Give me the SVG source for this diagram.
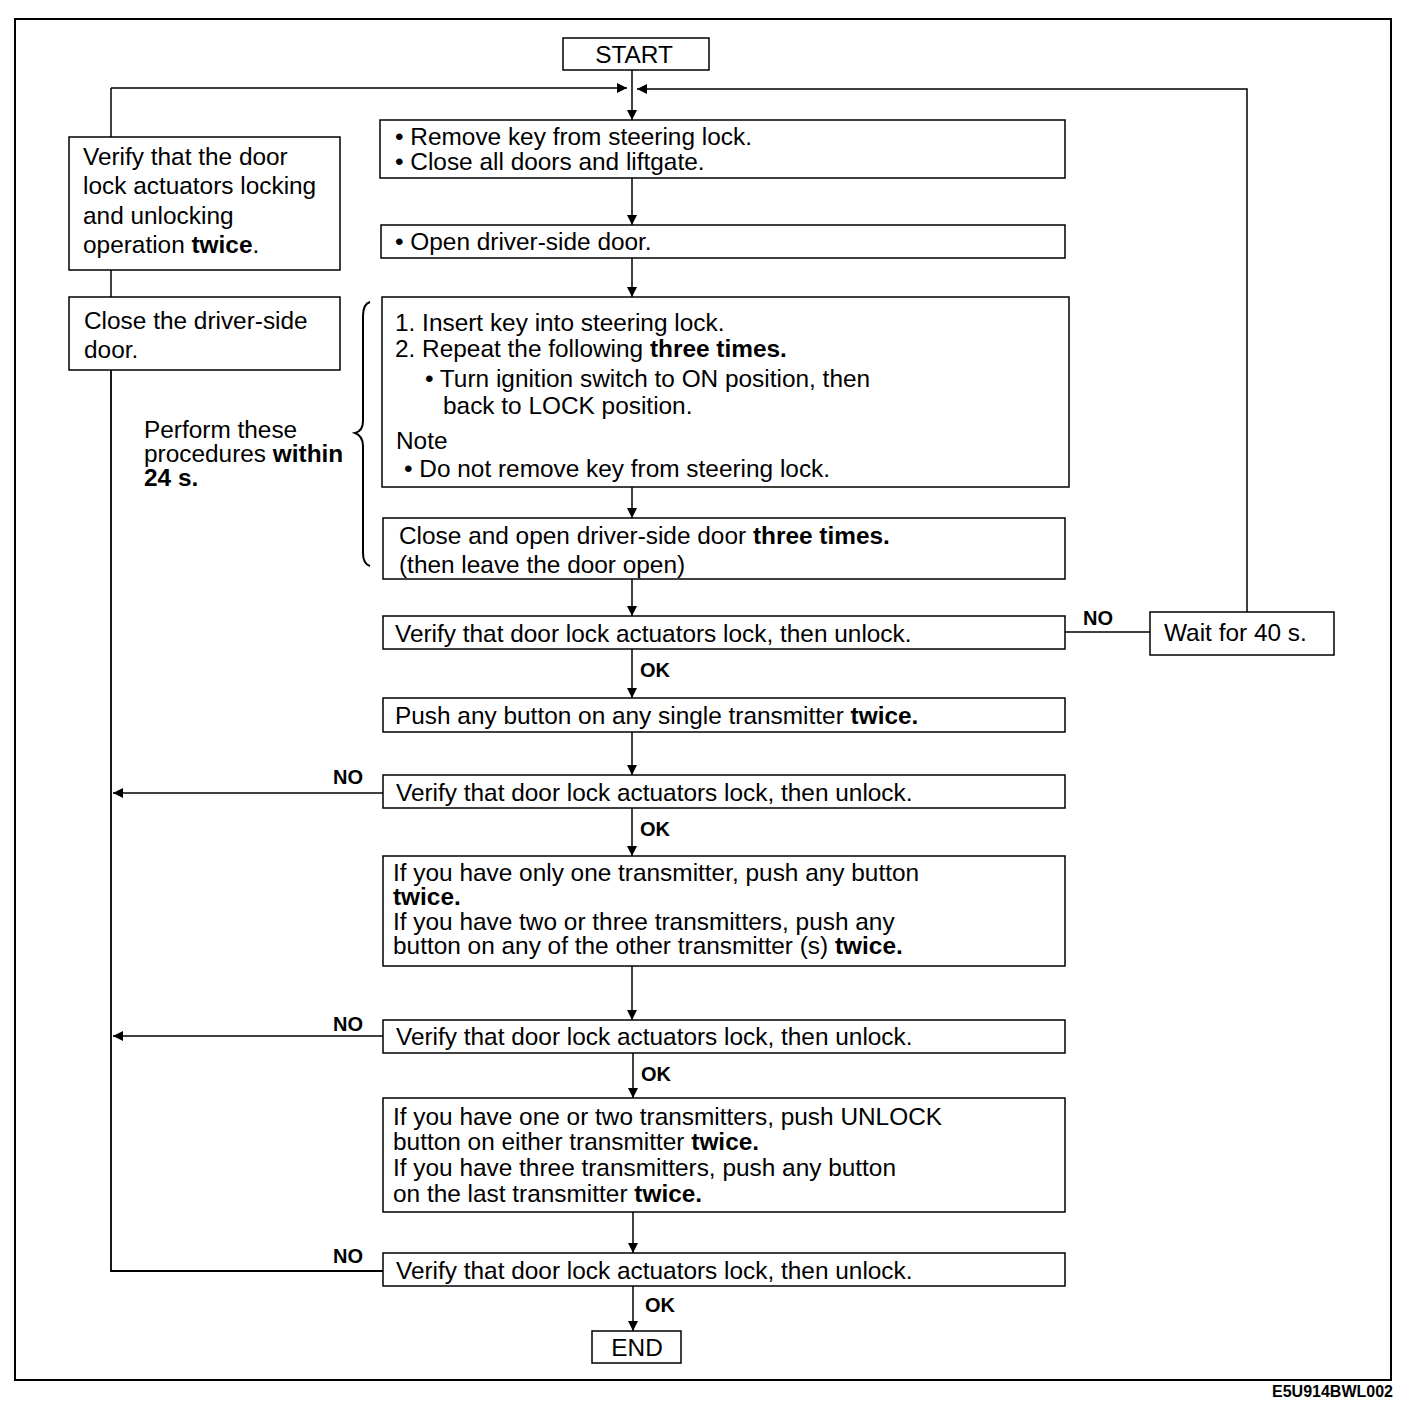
<svg xmlns="http://www.w3.org/2000/svg" width="1408" height="1408" viewBox="0 0 1408 1408">
<style>
  .box { fill: #fff; stroke: #000; stroke-width: 1.5; }
  .t { font-family: "Liberation Sans", Arial, sans-serif; font-size: 24.4px; fill: #000; }
  .lbl { font-family: "Liberation Sans", Arial, sans-serif; font-size: 20px; font-weight: bold; fill: #000; }
  .b { font-weight: bold; }
  .ln { fill: none; stroke: #000; stroke-width: 1.5; }
</style>
<defs>
  <marker id="ah" viewBox="0 0 10 14" refX="10" refY="7" markerWidth="10" markerHeight="14" markerUnits="userSpaceOnUse" orient="auto">
    <path d="M0,2 L10,7 L0,12 Z" fill="#000"/>
  </marker>
</defs>
<rect x="0" y="0" width="1408" height="1408" fill="#fff"/>
<rect x="15" y="19" width="1376" height="1361" fill="none" stroke="#000" stroke-width="2"/>

<g id="connectors">
  <line class="ln" x1="632" y1="70" x2="632" y2="120" marker-end="url(#ah)"/>
  <line class="ln" x1="111" y1="88" x2="627" y2="88" marker-end="url(#ah)"/>
  <polyline class="ln" points="1247,612 1247,89 637,89" marker-end="url(#ah)"/>
  <line class="ln" x1="111" y1="88" x2="111" y2="137"/>
  <line class="ln" x1="111" y1="270" x2="111" y2="297"/>
  <polyline class="ln" points="111,370 111,1271 383,1271" style="stroke-width:1.8"/>
  <line class="ln" x1="632" y1="178" x2="632" y2="225" marker-end="url(#ah)"/>
  <line class="ln" x1="632" y1="258" x2="632" y2="297" marker-end="url(#ah)"/>
  <line class="ln" x1="632" y1="487" x2="632" y2="518" marker-end="url(#ah)"/>
  <line class="ln" x1="632" y1="579" x2="632" y2="616" marker-end="url(#ah)"/>
  <line class="ln" x1="632" y1="649" x2="632" y2="698" marker-end="url(#ah)"/>
  <line class="ln" x1="632" y1="732" x2="632" y2="775" marker-end="url(#ah)"/>
  <line class="ln" x1="632" y1="808" x2="632" y2="856" marker-end="url(#ah)"/>
  <line class="ln" x1="632" y1="966" x2="632" y2="1020" marker-end="url(#ah)"/>
  <line class="ln" x1="633" y1="1053" x2="633" y2="1098" marker-end="url(#ah)"/>
  <line class="ln" x1="633" y1="1212" x2="633" y2="1253" marker-end="url(#ah)"/>
  <line class="ln" x1="633" y1="1286" x2="633" y2="1331" marker-end="url(#ah)"/>
  <line class="ln" x1="1065" y1="632" x2="1150" y2="632"/>
  <line class="ln" x1="383" y1="793" x2="113" y2="793" marker-end="url(#ah)"/>
  <line class="ln" x1="383" y1="1036" x2="113" y2="1036" marker-end="url(#ah)"/>
  <text class="lbl" x="640" y="677">OK</text>
  <text class="lbl" x="640" y="836">OK</text>
  <text class="lbl" x="641" y="1081">OK</text>
  <text class="lbl" x="645" y="1312">OK</text>
  <text class="lbl" x="333" y="784">NO</text>
  <text class="lbl" x="333" y="1031">NO</text>
  <text class="lbl" x="333" y="1263">NO</text>
  <text class="lbl" x="1083" y="625">NO</text>
</g>

<g id="start">
  <rect class="box" x="563" y="38" width="146" height="32"/>
  <text class="t" x="634" y="63" text-anchor="middle">START</text>
</g>

<g id="verify-twice">
  <rect class="box" x="69" y="137" width="271" height="133"/>
  <text class="t" x="83" y="165">Verify that the door</text>
  <text class="t" x="83" y="194">lock actuators locking</text>
  <text class="t" x="83" y="224">and unlocking</text>
  <text class="t" x="83" y="253">operation <tspan class="b">twice</tspan>.</text>
</g>

<g id="close-door">
  <rect class="box" x="69" y="297" width="271" height="73"/>
  <text class="t" x="84" y="329">Close the driver-side</text>
  <text class="t" x="84" y="358">door.</text>
</g>

<g id="within-note">
  <path class="ln" style="stroke-width:2" d="M370,302 Q363,304 363,316 L363,421 Q363,431 355,433 Q363,436 363,446 L363,553 Q363,564 370,566"/>
  <text class="t" x="144" y="438">Perform these</text>
  <text class="t" x="144" y="462">procedures <tspan class="b">within</tspan></text>
  <text class="t b" x="144" y="486">24 s.</text>
</g>

<g id="remove-key">
  <rect class="box" x="380" y="120" width="685" height="58"/>
  <text class="t" x="395" y="145">• Remove key from steering lock.</text>
  <text class="t" x="395" y="170">• Close all doors and liftgate.</text>
</g>

<g id="open-door">
  <rect class="box" x="381" y="225" width="684" height="33"/>
  <text class="t" x="395" y="250">• Open driver-side door.</text>
</g>

<g id="insert-key">
  <rect class="box" x="382" y="297" width="687" height="190"/>
  <text class="t" x="395" y="331">1. Insert key into steering lock.</text>
  <text class="t" x="395" y="357">2. Repeat the following <tspan class="b">three times.</tspan></text>
  <text class="t" x="425" y="387">• Turn ignition switch to ON position, then</text>
  <text class="t" x="443" y="414">back to LOCK position.</text>
  <text class="t" x="396" y="449">Note</text>
  <text class="t" x="404" y="477">• Do not remove key from steering lock.</text>
</g>

<g id="close-open">
  <rect class="box" x="383" y="518" width="682" height="61"/>
  <text class="t" x="399" y="544">Close and open driver-side door <tspan class="b">three times.</tspan></text>
  <text class="t" x="399" y="573">(then leave the door open)</text>
</g>

<g id="verify-1">
  <rect class="box" x="383" y="616" width="682" height="33"/>
  <text class="t" x="395" y="642">Verify that door lock actuators lock, then unlock.</text>
</g>

<g id="wait">
  <rect class="box" x="1150" y="612" width="184" height="43"/>
  <text class="t" x="1164" y="641">Wait for 40 s.</text>
</g>

<g id="push-single">
  <rect class="box" x="383" y="698" width="682" height="34"/>
  <text class="t" x="395" y="724">Push any button on any single transmitter <tspan class="b">twice.</tspan></text>
</g>

<g id="verify-2">
  <rect class="box" x="383" y="775" width="682" height="33"/>
  <text class="t" x="396" y="801">Verify that door lock actuators lock, then unlock.</text>
</g>

<g id="push-other">
  <rect class="box" x="383" y="856" width="682" height="110"/>
  <text class="t" x="393" y="881">If you have only one transmitter, push any button</text>
  <text class="t b" x="393" y="905">twice.</text>
  <text class="t" x="393" y="930">If you have two or three transmitters, push any</text>
  <text class="t" x="393" y="954">button on any of the other transmitter (s) <tspan class="b">twice.</tspan></text>
</g>

<g id="verify-3">
  <rect class="box" x="383" y="1020" width="682" height="33"/>
  <text class="t" x="396" y="1045">Verify that door lock actuators lock, then unlock.</text>
</g>

<g id="push-last">
  <rect class="box" x="383" y="1098" width="682" height="114"/>
  <text class="t" x="393" y="1125">If you have one or two transmitters, push UNLOCK</text>
  <text class="t" x="393" y="1150">button on either transmitter <tspan class="b">twice.</tspan></text>
  <text class="t" x="393" y="1176">If you have three transmitters, push any button</text>
  <text class="t" x="393" y="1202">on the last transmitter <tspan class="b">twice.</tspan></text>
</g>

<g id="verify-4">
  <rect class="box" x="383" y="1253" width="682" height="33"/>
  <text class="t" x="396" y="1279">Verify that door lock actuators lock, then unlock.</text>
</g>

<g id="end">
  <rect class="box" x="592" y="1331" width="89" height="32"/>
  <text class="t" x="637" y="1356" text-anchor="middle">END</text>
</g>

<text x="1393" y="1397" text-anchor="end" font-family="Liberation Sans, Arial, sans-serif" font-size="16" font-weight="bold">E5U914BWL002</text>
</svg>
